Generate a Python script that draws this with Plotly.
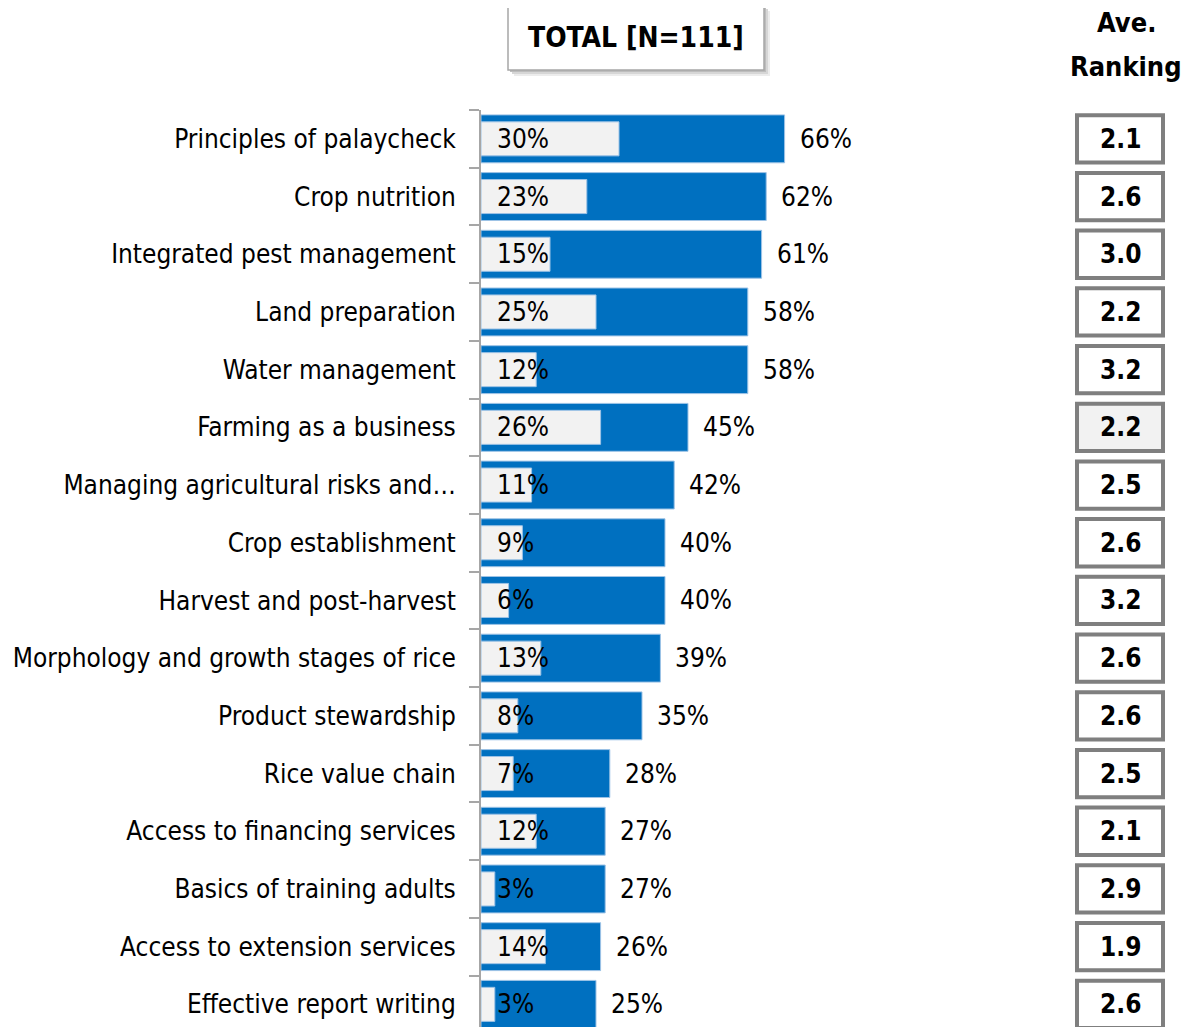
import plotly.graph_objects as go

topics = ["Principles of palaycheck", "Crop nutrition", "Integrated pest management",
          "Land preparation", "Water management", "Farming as a business",
          "Managing agricultural risks and…", "Crop establishment",
          "Harvest and post-harvest", "Morphology and growth stages of rice",
          "Product stewardship", "Rice value chain", "Access to financing services",
          "Basics of training adults", "Access to extension services",
          "Effective report writing"]
total_pct = [66, 62, 61, 58, 58, 45, 42, 40, 40, 39, 35, 28, 27, 27, 26, 25]
rank1_pct = [30, 23, 15, 25, 12, 26, 11, 9, 6, 13, 8, 7, 12, 3, 14, 3]
ave_rank = ["2.1", "2.6", "3.0", "2.2", "3.2", "2.2", "2.5", "2.6",
            "3.2", "2.6", "2.6", "2.5", "2.1", "2.9", "1.9", "2.6"]

# page body has an 8px margin, so the figure starts at screen (8, 8)
OFF = 8
W, H = 1193 - OFF, 1027 - OFF
L, T = 481 - OFF, 110 - OFF
ROW = 57.7
px_per_pct = 4.6
FONT = "Liberation Sans Narrow, Arial Narrow, DejaVu Sans Condensed, sans-serif"

idx = list(range(len(topics)))
ph = H - T
pw = W - L


def py(p):
    # screen pixel (from top) -> paper y
    return (H - (p - OFF)) / ph


def pxx(p):
    # screen pixel (from left) -> paper x
    return (p - OFF - L) / pw


fig = go.Figure()
fig.add_trace(go.Bar(y=topics, x=total_pct, orientation="h", width=0.83,
                     marker=dict(color="#0070c0", line=dict(color="#9dc3e6", width=1)),
                     hoverinfo="skip"))
fig.add_trace(go.Bar(y=topics, x=rank1_pct, orientation="h", width=0.59,
                     marker=dict(color="#f2f2f2", line=dict(color="#9dc3e6", width=1)),
                     hoverinfo="skip"))

ann = []
shapes = []
for i in idx:
    ann.append(dict(x=0, y=i, xref="x", yref="y", text=f"{rank1_pct[i]}%", showarrow=False,
                    xanchor="left", yanchor="middle", xshift=14,
                    font=dict(size=26, color="black", family=FONT)))
    ann.append(dict(x=total_pct[i], y=i, xref="x", yref="y", text=f"{total_pct[i]}%",
                    showarrow=False, xanchor="left", yanchor="middle", xshift=13,
                    font=dict(size=26, color="black", family=FONT)))
    # ranking box
    x0, x1 = pxx(1077), pxx(1163)
    shapes.append(dict(type="rect", xref="paper", yref="y", x0=x0, x1=x1,
                       y0=i - 0.41, y1=i + 0.41, line=dict(color="#7f7f7f", width=4),
                       fillcolor="#f2f2f2" if i == 5 else "white", layer="above"))
    ann.append(dict(x=(x0 + x1) / 2, y=i, xref="paper", yref="y", text=f"<b>{ave_rank[i]}</b>",
                    showarrow=False, xanchor="center", yanchor="middle",
                    font=dict(size=26, color="black", family=FONT)))

# title box with soft shadow
for off, col in [(6, "#ececec"), (4, "#d6d6d6"), (2, "#bdbdbd")]:
    shapes.append(dict(type="rect", xref="paper", yref="paper",
                       x0=pxx(508 + off), x1=pxx(764 + off), y0=py(70 + off), y1=py(5 + off),
                       line=dict(width=0), fillcolor=col, layer="above"))
shapes.append(dict(type="rect", xref="paper", yref="paper",
                   x0=pxx(508), x1=pxx(764), y0=py(70), y1=py(5),
                   line=dict(color="#a6a6a6", width=1.5), fillcolor="white", layer="above"))
ann.append(dict(x=pxx(636), y=py(38), xref="paper", yref="paper", text="<b>TOTAL [N=111]</b>",
                showarrow=False, xanchor="center", yanchor="middle",
                font=dict(size=28, color="black", family=FONT)))
ann.append(dict(x=pxx(1126), y=py(23), xref="paper", yref="paper", text="<b>Ave.</b>",
                showarrow=False, xanchor="center", yanchor="middle",
                font=dict(size=27, color="black", family=FONT)))
ann.append(dict(x=pxx(1126), y=py(67), xref="paper", yref="paper", text="<b>Ranking</b>",
                showarrow=False, xanchor="center", yanchor="middle",
                font=dict(size=27, color="black", family=FONT)))

# plot bottom sits at the window edge; last row is partly cut, as in the reference
y_bottom = (1027 - 110) / ROW - 0.5

fig.update_layout(
    width=W, height=H, margin=dict(l=L, r=0, t=T, b=0, autoexpand=False),
    paper_bgcolor="white", plot_bgcolor="white",
    barmode="overlay", showlegend=False,
    annotations=ann, shapes=shapes,
    xaxis=dict(range=[0, pw / px_per_pct], visible=False, fixedrange=True,
               automargin=False),
    yaxis=dict(type="category", categoryorder="array", categoryarray=topics,
               range=[y_bottom, -0.5], automargin=False,
               showline=True, linecolor="#a6a6a6", linewidth=2,
               ticks="outside", tickson="boundaries", ticklen=10,
               tickcolor="#a6a6a6", tickwidth=2,
               showgrid=False, zeroline=False, ticklabelstandoff=18,
               tickfont=dict(size=26, color="black", family=FONT)),
)

fig.write_html("out.html")
